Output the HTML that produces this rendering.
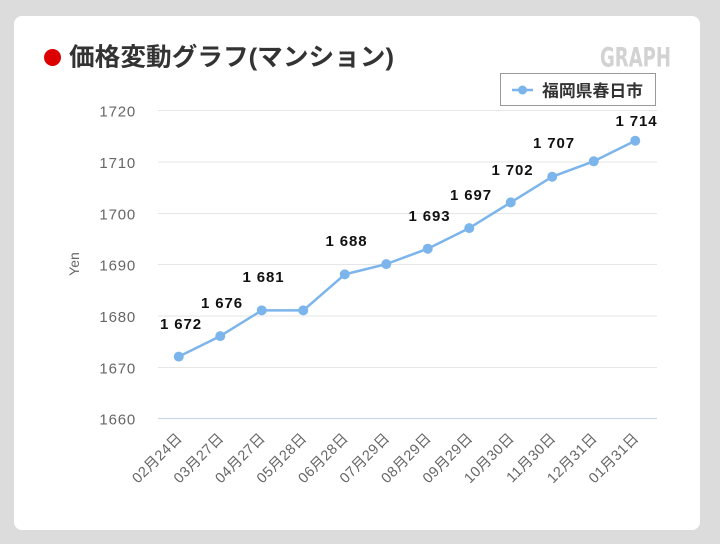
<!DOCTYPE html>
<html>
<head>
<meta charset="utf-8">
<style>
  html,body{margin:0;padding:0;background:#dcdcdc;}
  body{width:720px;height:544px;overflow:hidden;position:relative;}
  .card{position:absolute;left:14px;top:16px;width:686px;height:514px;background:#fff;border-radius:8px;}
  svg{position:absolute;left:0;top:0;}
</style>
</head>
<body>
<div class="card"></div>
<svg width="720" height="544" viewBox="0 0 720 544" xmlns="http://www.w3.org/2000/svg">
  <!-- title -->
  <circle cx="52.5" cy="57.5" r="8.5" fill="#dd0000"/>
  <text x="69" y="65.5" font-family="'Liberation Sans','Noto Sans CJK JP',sans-serif" font-weight="bold" font-size="25" fill="#333" textLength="325" lengthAdjust="spacingAndGlyphs">価格変動グラフ(マンション)</text>
  <text x="600" y="66.5" font-family="'Liberation Sans Narrow','DejaVu Sans Condensed','Liberation Sans',sans-serif" font-weight="bold" font-size="27" fill="#d2d2d2" textLength="71" lengthAdjust="spacingAndGlyphs">GRAPH</text>

  <!-- legend -->
  <rect x="500.5" y="73.5" width="155" height="32" fill="#fff" stroke="#999" stroke-width="1"/>
  <line x1="512" y1="90" x2="533" y2="90" stroke="#7cb5ec" stroke-width="2.5"/>
  <circle cx="522.5" cy="90" r="4.5" fill="#7cb5ec"/>
  <text x="542" y="96.5" font-family="'Liberation Sans','Noto Sans CJK JP',sans-serif" font-weight="bold" font-size="16.5" fill="#333" textLength="101" lengthAdjust="spacingAndGlyphs">福岡県春日市</text>

  <!-- gridlines -->
  <g stroke="#e6e6e6" stroke-width="1">
    <line x1="158" y1="110.5" x2="657" y2="110.5"/>
    <line x1="158" y1="162" x2="657" y2="162"/>
    <line x1="158" y1="213.5" x2="657" y2="213.5"/>
    <line x1="158" y1="264.5" x2="657" y2="264.5"/>
    <line x1="158" y1="316" x2="657" y2="316"/>
    <line x1="158" y1="367.5" x2="657" y2="367.5"/>
  </g>
  <line x1="158" y1="418.5" x2="657" y2="418.5" stroke="#ccd6eb" stroke-width="1.2"/>

  <!-- y labels -->
  <g font-family="'Liberation Sans',sans-serif" font-size="15" fill="#666" text-anchor="end" letter-spacing="0.8">
    <text x="136" y="116.5">1720</text>
    <text x="136" y="168">1710</text>
    <text x="136" y="219.5">1700</text>
    <text x="136" y="270.5">1690</text>
    <text x="136" y="322">1680</text>
    <text x="136" y="373.5">1670</text>
    <text x="136" y="424.5">1660</text>
  </g>
  <text transform="translate(79,264) rotate(-90)" font-family="'Liberation Sans',sans-serif" font-size="14" fill="#666" text-anchor="middle">Yen</text>

  <!-- x labels -->
  <g font-family="'Liberation Sans','Noto Sans CJK JP',sans-serif" font-size="14.5" fill="#666" text-anchor="end" letter-spacing="0.4">
    <text transform="translate(183,439) rotate(-45)">02月24日</text>
    <text transform="translate(224.5,439) rotate(-45)">03月27日</text>
    <text transform="translate(266,439) rotate(-45)">04月27日</text>
    <text transform="translate(307.5,439) rotate(-45)">05月28日</text>
    <text transform="translate(349,439) rotate(-45)">06月28日</text>
    <text transform="translate(390.5,439) rotate(-45)">07月29日</text>
    <text transform="translate(432,439) rotate(-45)">08月29日</text>
    <text transform="translate(473.5,439) rotate(-45)">09月29日</text>
    <text transform="translate(515,439) rotate(-45)">10月30日</text>
    <text transform="translate(556.5,439) rotate(-45)">11月30日</text>
    <text transform="translate(598,439) rotate(-45)">12月31日</text>
    <text transform="translate(639.5,439) rotate(-45)">01月31日</text>
  </g>

  <!-- series -->
  <polyline fill="none" stroke="#7cb5ec" stroke-width="2.5" stroke-linejoin="round"
    points="178.75,356.6 220.25,336.1 261.75,310.4 303.25,310.4 344.75,274.4 386.25,264.1 427.75,248.7 469.25,228.1 510.75,202.4 552.25,176.7 593.75,161.3 635.25,140.7"/>
  <g fill="#7cb5ec">
    <circle cx="178.75" cy="356.6" r="5"/>
    <circle cx="220.25" cy="336.1" r="5"/>
    <circle cx="261.75" cy="310.4" r="5"/>
    <circle cx="303.25" cy="310.4" r="5"/>
    <circle cx="344.75" cy="274.4" r="5"/>
    <circle cx="386.25" cy="264.1" r="5"/>
    <circle cx="427.75" cy="248.7" r="5"/>
    <circle cx="469.25" cy="228.1" r="5"/>
    <circle cx="510.75" cy="202.4" r="5"/>
    <circle cx="552.25" cy="176.7" r="5"/>
    <circle cx="593.75" cy="161.3" r="5"/>
    <circle cx="635.25" cy="140.7" r="5"/>
  </g>

  <!-- data labels -->
  <g font-family="'Liberation Sans',sans-serif" font-weight="bold" font-size="15" fill="#111" text-anchor="middle" letter-spacing="0.9">
    <text x="181" y="329">1 672</text>
    <text x="222" y="308">1 676</text>
    <text x="263.5" y="282">1 681</text>
    <text x="346.5" y="246">1 688</text>
    <text x="429.5" y="221">1 693</text>
    <text x="471" y="200">1 697</text>
    <text x="512.5" y="175">1 702</text>
    <text x="554" y="148">1 707</text>
    <text x="636.5" y="126">1 714</text>
  </g>
</svg>
</body>
</html>
